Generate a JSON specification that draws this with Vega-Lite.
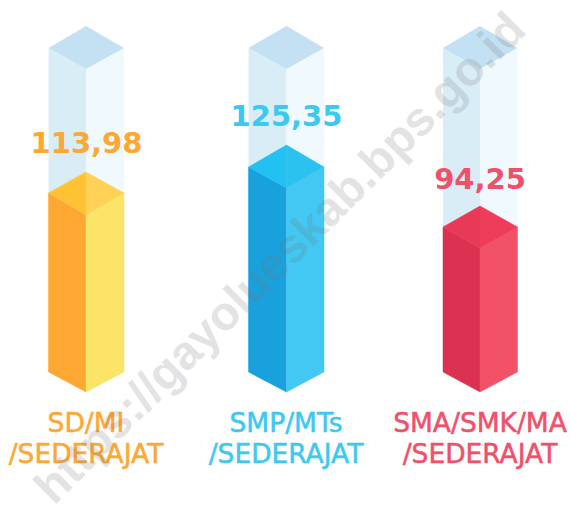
{"$schema":"https://vega.github.io/schema/vega-lite/v6.json","autosize":{"type":"none"},"width":571,"height":506,"padding":0,"background":"white","config":{"view":{"stroke":null}},
"datasets":{
"glass":[
{"kolom":"SD/MI","bagian":"kaca-kiri","u":48.5,"a":48,"b":193},{"kolom":"SD/MI","bagian":"kaca-kiri","u":86,"a":69,"b":215},
{"kolom":"SD/MI","bagian":"kaca-kanan","u":86,"a":69,"b":215},{"kolom":"SD/MI","bagian":"kaca-kanan","u":124,"a":48,"b":193},
{"kolom":"SD/MI","bagian":"kaca-atas","u":48.5,"a":48,"b":48},{"kolom":"SD/MI","bagian":"kaca-atas","u":86,"a":26,"b":69},{"kolom":"SD/MI","bagian":"kaca-atas","u":124,"a":48,"b":48},
{"kolom":"SMP/MTs","bagian":"kaca-kiri","u":248.5,"a":48,"b":167},{"kolom":"SMP/MTs","bagian":"kaca-kiri","u":286.5,"a":69,"b":188},
{"kolom":"SMP/MTs","bagian":"kaca-kanan","u":286.5,"a":69,"b":188},{"kolom":"SMP/MTs","bagian":"kaca-kanan","u":324,"a":48,"b":167},
{"kolom":"SMP/MTs","bagian":"kaca-atas","u":248.5,"a":48,"b":48},{"kolom":"SMP/MTs","bagian":"kaca-atas","u":286.5,"a":26,"b":69},{"kolom":"SMP/MTs","bagian":"kaca-atas","u":324,"a":48,"b":48},
{"kolom":"SMA/SMK/MA","bagian":"kaca-kiri","u":443,"a":48,"b":227},{"kolom":"SMA/SMK/MA","bagian":"kaca-kiri","u":480,"a":69,"b":248},
{"kolom":"SMA/SMK/MA","bagian":"kaca-kanan","u":480,"a":69,"b":248},{"kolom":"SMA/SMK/MA","bagian":"kaca-kanan","u":517.5,"a":48,"b":227},
{"kolom":"SMA/SMK/MA","bagian":"kaca-atas","u":443,"a":48,"b":48},{"kolom":"SMA/SMK/MA","bagian":"kaca-atas","u":480,"a":26,"b":69},{"kolom":"SMA/SMK/MA","bagian":"kaca-atas","u":517.5,"a":48,"b":48}
],
"bars":[
{"kolom":"SD/MI","bagian":"sd-kiri","u":48.5,"a":193,"b":372},{"kolom":"SD/MI","bagian":"sd-kiri","u":86,"a":215,"b":392},
{"kolom":"SD/MI","bagian":"sd-kanan","u":86,"a":215,"b":392},{"kolom":"SD/MI","bagian":"sd-kanan","u":124,"a":193,"b":372},
{"kolom":"SD/MI","bagian":"sd-atas1","u":48.5,"a":193,"b":193},{"kolom":"SD/MI","bagian":"sd-atas1","u":86,"a":172,"b":215},
{"kolom":"SD/MI","bagian":"sd-atas2","u":86,"a":172,"b":215},{"kolom":"SD/MI","bagian":"sd-atas2","u":124,"a":193,"b":193},
{"kolom":"SMP/MTs","bagian":"smp-kiri","u":248.5,"a":167,"b":372},{"kolom":"SMP/MTs","bagian":"smp-kiri","u":286.5,"a":188,"b":392},
{"kolom":"SMP/MTs","bagian":"smp-kanan","u":286.5,"a":188,"b":392},{"kolom":"SMP/MTs","bagian":"smp-kanan","u":324,"a":167,"b":372},
{"kolom":"SMP/MTs","bagian":"smp-atas1","u":248.5,"a":167,"b":167},{"kolom":"SMP/MTs","bagian":"smp-atas1","u":286.5,"a":145,"b":188},
{"kolom":"SMP/MTs","bagian":"smp-atas2","u":286.5,"a":145,"b":188},{"kolom":"SMP/MTs","bagian":"smp-atas2","u":324,"a":167,"b":167},
{"kolom":"SMA/SMK/MA","bagian":"sma-kiri","u":443,"a":227,"b":372},{"kolom":"SMA/SMK/MA","bagian":"sma-kiri","u":480,"a":248,"b":392},
{"kolom":"SMA/SMK/MA","bagian":"sma-kanan","u":480,"a":248,"b":392},{"kolom":"SMA/SMK/MA","bagian":"sma-kanan","u":517.5,"a":227,"b":372},
{"kolom":"SMA/SMK/MA","bagian":"sma-atas1","u":443,"a":227,"b":227},{"kolom":"SMA/SMK/MA","bagian":"sma-atas1","u":480,"a":206,"b":248},
{"kolom":"SMA/SMK/MA","bagian":"sma-atas2","u":480,"a":206,"b":248},{"kolom":"SMA/SMK/MA","bagian":"sma-atas2","u":517.5,"a":227,"b":227}
],
"values":[
{"kolom":"SD/MI","nilai":"113,98","u":86.5,"t":153},
{"kolom":"SMP/MTs","nilai":"125,35","u":286.5,"t":126},
{"kolom":"SMA/SMK/MA","nilai":"94,25","u":480,"t":189}
],
"labels":[
{"kolom":"SD/MI","teks":"SD/MI","u":86,"t":432},{"kolom":"SD/MI","teks":"/SEDERAJAT","u":86,"t":463},
{"kolom":"SMP/MTs","teks":"SMP/MTs","u":286,"t":432},{"kolom":"SMP/MTs","teks":"/SEDERAJAT","u":286,"t":463},
{"kolom":"SMA/SMK/MA","teks":"SMA/SMK/MA","u":480,"t":432},{"kolom":"SMA/SMK/MA","teks":"/SEDERAJAT","u":480,"t":463}
],
"mark":[{"teks":"https://gayolueskab.bps.go.id","u":281,"t":259}]
},
"layer":[
{"data":{"name":"glass"},"mark":{"type":"area","orient":"vertical","interpolate":"linear"},"encoding":{
"x":{"field":"u","type":"quantitative","scale":{"domain":[0,571],"nice":false,"zero":false},"axis":null},
"y":{"field":"a","type":"quantitative","scale":{"domain":[506,0],"nice":false,"zero":false},"axis":null},
"y2":{"field":"b"},"detail":{"field":"kolom"},
"color":{"field":"bagian","type":"nominal","legend":null,"scale":{"domain":["kaca-kiri","kaca-kanan","kaca-atas"],"range":["#D9EDF7","#F0F9FD","#C3E1F3"]}}}},
{"data":{"name":"bars"},"mark":{"type":"area","orient":"vertical","interpolate":"linear","strokeWidth":0.5},"encoding":{
"x":{"field":"u","type":"quantitative","axis":null},
"y":{"field":"a","type":"quantitative","axis":null},
"y2":{"field":"b"},"detail":{"field":"kolom"},
"fill":{"field":"bagian","type":"nominal","legend":null,"scale":{"domain":["sd-kiri","sd-kanan","sd-atas1","sd-atas2","smp-kiri","smp-kanan","smp-atas1","smp-atas2","sma-kiri","sma-kanan","sma-atas1","sma-atas2"],"range":["#FFA733","#FCE468","#FFC235","#FFD257","#18A1DC","#42C8F2","#22C1F1","#2CC2F0","#DA3250","#F25268","#E83A58","#EE3D5B"]}},
"stroke":{"field":"bagian","type":"nominal","legend":null,"scale":{"domain":["sd-kiri","sd-kanan","sd-atas1","sd-atas2","smp-kiri","smp-kanan","smp-atas1","smp-atas2","sma-kiri","sma-kanan","sma-atas1","sma-atas2"],"range":["#FFA733","#FCE468","#FFC235","#FFD257","#18A1DC","#42C8F2","#22C1F1","#2CC2F0","#DA3250","#F25268","#E83A58","#EE3D5B"]}}}},
{"data":{"name":"values"},"mark":{"type":"text","font":"DejaVu Sans","fontWeight":"bold","fontSize":29,"align":"center","baseline":"alphabetic"},"encoding":{
"x":{"field":"u","type":"quantitative","axis":null},"y":{"field":"t","type":"quantitative","axis":null},
"text":{"field":"nilai"},
"fill":{"field":"kolom","type":"nominal","legend":null,"scale":{"domain":["SD/MI","SMP/MTs","SMA/SMK/MA"],"range":["#FFA733","#3CC8F0","#F0506A"]}}}},
{"data":{"name":"labels"},"mark":{"type":"text","font":"DejaVu Sans","fontSize":26.5,"align":"center","baseline":"alphabetic","strokeWidth":0.5},"encoding":{
"x":{"field":"u","type":"quantitative","axis":null},"y":{"field":"t","type":"quantitative","axis":null},
"text":{"field":"teks"},
"fill":{"field":"kolom","type":"nominal","legend":null,"scale":{"domain":["SD/MI","SMP/MTs","SMA/SMK/MA"],"range":["#FFA733","#3CC8F0","#F0506A"]}},
"stroke":{"field":"kolom","type":"nominal","legend":null,"scale":{"domain":["SD/MI","SMP/MTs","SMA/SMK/MA"],"range":["#FFA733","#3CC8F0","#F0506A"]}}}},
{"data":{"name":"mark"},"mark":{"type":"text","font":"Liberation Sans","fontWeight":"bold","fontSize":47.5,"align":"center","baseline":"middle","angle":-45,"color":"#777777","opacity":0.2},"encoding":{
"x":{"field":"u","type":"quantitative","axis":null},"y":{"field":"t","type":"quantitative","axis":null},
"text":{"field":"teks"}}}
],
"resolve":{"scale":{"color":"independent","fill":"independent","stroke":"independent"}}
}
